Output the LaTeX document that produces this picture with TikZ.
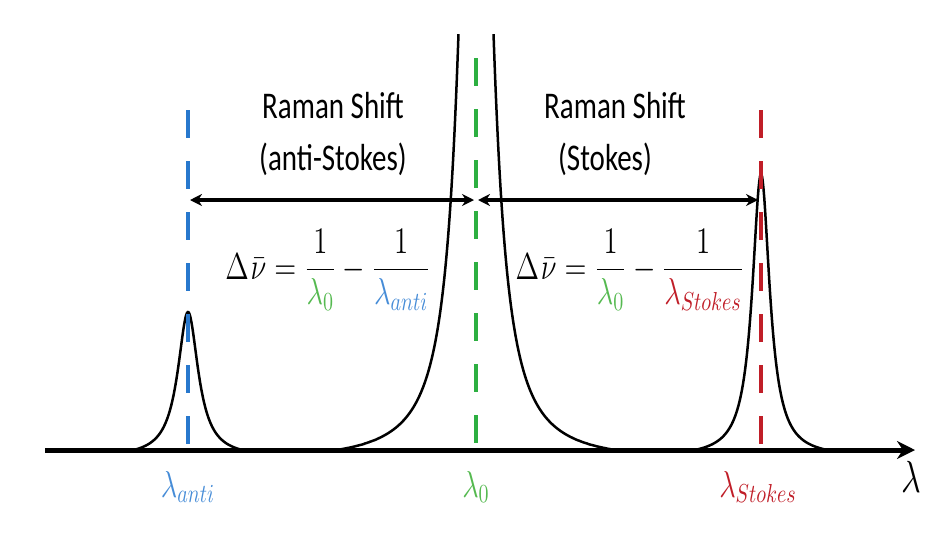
\documentclass[tikz,border=0pt]{standalone}
\usepackage{fontspec}
\usepackage{graphicx}
\setmainfont{Carlito}
\usetikzlibrary{arrows.meta}
\definecolor{cblue}{RGB}{40,120,205}
\definecolor{cblue2}{RGB}{70,140,215}
\definecolor{cgreen}{RGB}{45,175,65}
\definecolor{cgreen2}{RGB}{85,185,80}
\definecolor{cred}{RGB}{192,30,40}
\tikzset{
  curve/.style={line width=1.25pt, black},
  vline/.style={line width=2.4pt, dash pattern=on 14pt off 11.5pt},
  shiftarrow/.style={line width=1.6pt, {Stealth[length=6pt,width=6pt]}-{Stealth[length=6pt,width=6pt]}},
  axis/.style={line width=2.5pt, -{Stealth[length=9pt,width=9pt]}},
  lbl/.style={font=\fontsize{14.5}{17}\selectfont, inner sep=0pt},
  formula/.style={font=\fontsize{14.5}{17}\selectfont, inner sep=0pt},
}
\newcommand{\vs}[1]{\scalebox{1}[1.3]{#1}}
\begin{document}
\begin{tikzpicture}[x=50pt,y=-50pt]
\useasboundingbox (0,0) rectangle (9.51,5.36);
% coordinates
\coordinate (ax0) at (0.45,4.50);
\coordinate (ax1) at (9.15,4.50);
\coordinate (pa) at (1.88,4.50);
\coordinate (p0) at (4.76,4.50);
\coordinate (ps) at (7.61,4.50);
\coordinate (ta) at (1.88,1.10);
\coordinate (t0) at (4.76,0.58);
\coordinate (ts) at (7.61,1.10);
\coordinate (aa) at (1.90,2.00);
\coordinate (a0l) at (4.74,2.00);
\coordinate (a0r) at (4.78,2.00);
\coordinate (as) at (7.58,2.00);
% spectrum
\begin{scope}
\clip (0,0.34) rectangle (9.51,5.36);
\draw[curve] plot[domain=0.45:9.05, samples=1200] (\x, {4.50
  - 10.2*max(0.0217/((\x-4.76)^2+0.0217)-0.011,0)/0.989
  - 1.38*max(0.0156/((\x-1.88)^2+0.0156)-0.05,0)/0.95
  - 2.76*max(0.0113/((\x-7.61)^2+0.0113)-0.025,0)/0.975});
\end{scope}
% dashed lines
\draw[vline, cblue] (ta) -- (pa);
\draw[vline, cgreen] (t0) -- (p0);
\draw[vline, cred] (ts) -- (ps);
% axis
\draw[axis] (ax0) -- (ax1);
% shift arrows
\draw[shiftarrow] (aa) -- (a0l);
\draw[shiftarrow] (a0r) -- (as);
% texts
\node[lbl, anchor=base] (t1) at (3.33,1.18) {\vs{Raman Shift}};
\node[lbl, anchor=base] (t2) at (3.33,1.70) {\vs{(anti-Stokes)}};
\node[lbl, anchor=base] (t3) at (6.15,1.18) {\vs{Raman Shift}};
\node[lbl, anchor=base] (t4) at (6.05,1.70) {\vs{(Stokes)}};
\node[formula] (f1) at (3.28,2.70) {\vs{$\displaystyle \Delta\mkern1mu\bar{\nu}=\frac{1}{\color{cgreen2}\lambda_0}-\frac{1}{\color{cblue2}\lambda_{anti}}$}};
\node[formula] (f2) at (6.30,2.70) {\vs{$\displaystyle \Delta\mkern1mu\bar{\nu}=\frac{1}{\color{cgreen2}\lambda_0}-\frac{1}{\color{cred}\lambda_{Stokes}}$}};
\node[lbl, text=cblue2] (la) at (1.88,4.87) {\vs{$\lambda_{anti}$}};
\node[lbl, text=cgreen2] (l0) at (4.76,4.87) {\vs{$\lambda_0$}};
\node[lbl, text=cred] (ls) at (7.58,4.87) {\vs{$\lambda_{Stokes}$}};
\node[inner sep=0pt, font=\fontsize{19}{22}\selectfont] (lam) at (9.11,4.77) {\vs{$\lambda$}};
\end{tikzpicture}
\end{document}
